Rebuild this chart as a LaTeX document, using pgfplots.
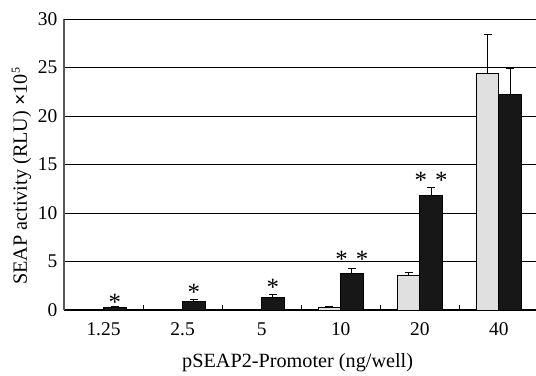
\documentclass[border=0pt]{standalone}
\usepackage{pgfplots}
\pgfplotsset{compat=1.18}
\usepackage{fontspec}
\setmainfont{Liberation Serif}
\definecolor{lightbar}{HTML}{E0E0E0}
\definecolor{darkbar}{HTML}{171717}
\newcommand\twostar{*\hspace{8bp}*}
\newcommand\bigf{\fontsize{19.5}{22}\selectfont}
\newcommand\labf{\fontsize{20.3}{23}\selectfont}
\begin{document}
\bigf
\begin{tikzpicture}
\begin{axis}[
  scale only axis, width=472bp, height=291bp,
  xmin=-0.5, xmax=5.47, ymin=0, ymax=30,
  /pgf/number format/assume math mode=true,
  tick label style={font=\bigf},
  label style={font=\labf},
  axis x line*=bottom, axis y line*=left,
  axis line style={-},
  x axis line style={black, line width=1.2bp},
  y axis line style={black!65, line width=1.2bp},
  xtick={0,...,5}, xticklabels={1.25,2.5,5,10,20,40},
  major x tick style={draw=none},
  minor xtick={0.5,1.5,2.5,3.5,4.5},
  minor x tick style={black, line width=0.8bp},
  minor tick length=5bp,
  tick align=inside,
  ytick={0,5,...,25},
  major y tick style={draw=none},
  extra y ticks={30},
  extra y tick style={grid style={black!30, line width=1bp}, major y tick style={draw=none}},
  ymajorgrids,
  major grid style={black, line width=0.8bp},
  xticklabel style={anchor=base, yshift=-25bp},
  yticklabel style={anchor=east},
  xlabel={pSEAP2-Promoter (ng/well)},
  xlabel style={at={(axis description cs:0.495,0)}, anchor=base, yshift=-57bp},
  ylabel={SEAP activity (RLU) \textbf{×}10\textsuperscript{\fontsize{12}{14}\selectfont 5}},
  ylabel style={at={(axis description cs:0,0.46)}, anchor=base, yshift=37bp},
]
\coordinate (o) at (rel axis cs:0,0);
\addplot[ybar, bar width=22.5bp, bar shift=-11.25bp, fill=lightbar, draw=black, line width=0.8bp,
  error bars/.cd, y dir=plus, y explicit,
  error bar style={black, line width=1bp, xshift=-11.25bp},
  error mark options={rotate=90, mark size=4bp, line width=1bp, xshift=-11.25bp}]
  coordinates {(0,0.02) +- (0,0) (1,0.03) +- (0,0) (2,0.05) +- (0,0) (3,0.25) +- (0,0.1) (4,3.55) +- (0,0.28) (5,24.4) +- (0,4.0)};
\addplot[ybar, bar width=22.5bp, bar shift=11.25bp, fill=darkbar, draw=black, line width=0.8bp,
  error bars/.cd, y dir=plus, y explicit,
  error bar style={black, line width=1bp, xshift=11.25bp},
  error mark options={rotate=90, mark size=4bp, line width=1bp, xshift=11.25bp}]
  coordinates {(0,0.3) +- (0,0.07) (1,0.9) +- (0,0.18) (2,1.3) +- (0,0.25) (3,3.8) +- (0,0.45) (4,11.8) +- (0,0.85) (5,22.2) +- (0,2.7)};
\addplot[draw=none, mark=none, nodes near coords, point meta=explicit symbolic,
  every node near coord/.append style={anchor=north, inner sep=0pt, font=\fontsize{25}{27}\selectfont}]
  coordinates {(0.142,1.6) [*] (1.142,2.65) [*] (2.142,3.15) [*] (3.142,6.05) [\twostar] (4.142,14.25) [\twostar]};
\end{axis}
\pgfresetboundingbox
\path (o) ++(-64bp,-66bp) rectangle ++(536bp,376bp);
\end{tikzpicture}
\end{document}
